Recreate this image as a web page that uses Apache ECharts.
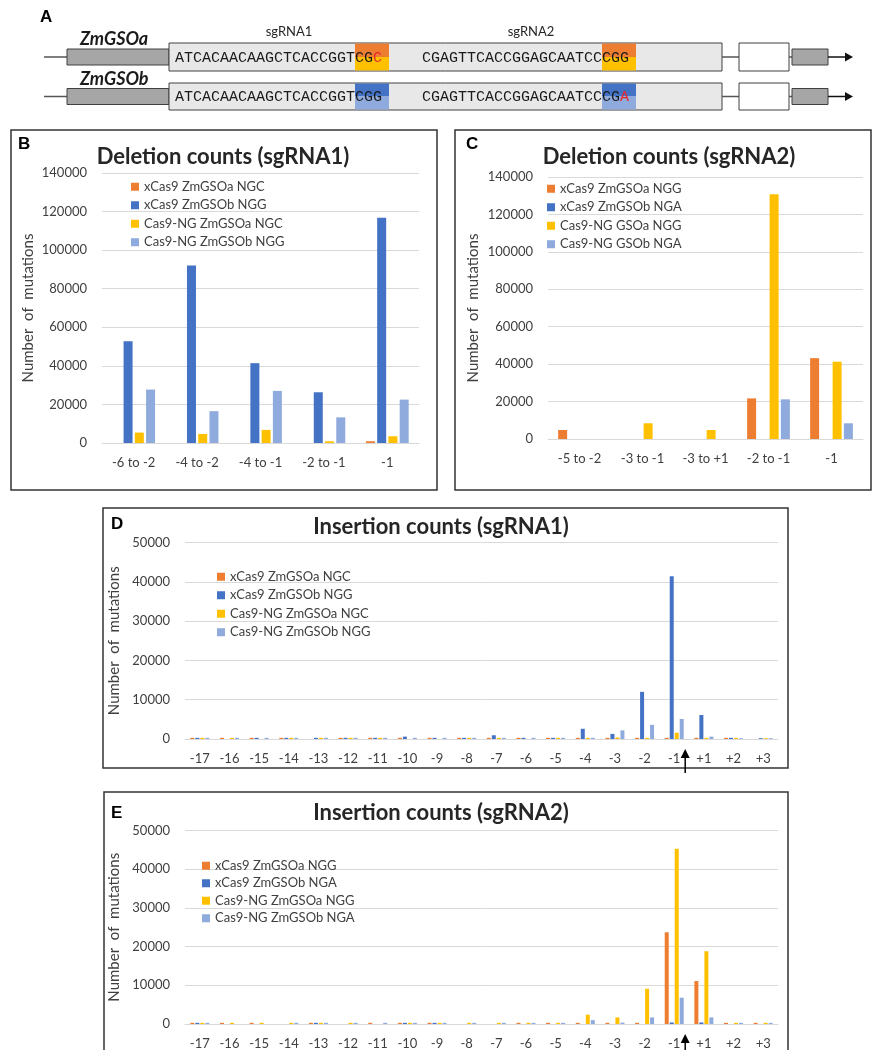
<!DOCTYPE html>
<html><head><meta charset="utf-8">
<script src="https://cdn.jsdelivr.net/npm/echarts@6/dist/echarts.min.js"></script>
<style>html,body{margin:0;padding:0;background:#fff}#c{width:872px;height:1050px}</style>
</head><body><div id="c"></div>
<script>
// ---------- DATA ----------
const seriesNamesB = ['xCas9 ZmGSOa NGC','xCas9 ZmGSOb NGG','Cas9-NG ZmGSOa NGC','Cas9-NG ZmGSOb NGG'];
const seriesNamesC = ['xCas9 ZmGSOa NGG','xCas9 ZmGSOb NGA','Cas9-NG GSOa NGG','Cas9-NG GSOb NGA'];
const seriesNamesD = ['xCas9 ZmGSOa NGC','xCas9 ZmGSOb NGG','Cas9-NG ZmGSOa NGC','Cas9-NG ZmGSOb NGG'];
const seriesNamesE = ['xCas9 ZmGSOa NGG','xCas9 ZmGSOb NGA','Cas9-NG ZmGSOa NGG','Cas9-NG ZmGSOb NGA'];

const catB = ['-6 to -2','-4 to -2','-4 to -1','-2 to -1','-1'];
const B_xa = [0, 0, 0, 0, 900];
const B_xb = [52700, 92000, 41400, 26300, 116800];
const B_na = [5400, 4700, 6800, 900, 3500];
const B_nb = [27700, 16500, 27000, 13300, 22500];

const catC = ['-5 to -2','-3 to -1','-3 to +1','-2 to -1','-1'];
const C_xa = [4800, 0, 0, 21700, 43200];
const C_xb = [0, 0, 0, 0, 0];
const C_na = [0, 8400, 4800, 130800, 41300];
const C_nb = [0, 0, 0, 21200, 8400];

const catIns = ['-17','-16','-15','-14','-13','-12','-11','-10','-9','-8','-7','-6','-5','-4','-3','-2','-1','+1','+2','+3'];
const D_xa = [300,300,300,300,0,300,300,300,300,300,300,300,300,300,300,300,300,300,300,0];
const D_xb = [300,0,300,300,300,300,300,600,300,300,950,300,300,2600,1300,12000,41400,6100,300,200];
const D_na = [300,300,0,300,300,300,300,0,0,300,300,0,300,300,400,300,1600,300,300,200];
const D_nb = [300,300,300,300,300,300,300,300,300,300,300,300,300,300,2200,3600,5100,600,200,200];

const E_xa = [300,300,300,0,300,0,300,300,300,0,0,300,300,300,300,300,23700,11100,300,300];
const E_xb = [300,0,0,0,300,0,0,300,300,0,0,0,0,0,0,0,400,400,0,0];
const E_na = [300,300,300,300,300,300,0,300,300,300,300,300,300,2400,1700,9100,45300,18800,300,300];
const E_nb = [300,0,0,300,300,300,300,300,300,300,300,300,300,1000,350,1700,6800,1700,300,300];

const delMax = 140000, delStep = 20000;
const insMax = 50000, insStep = 10000;

const seqA1 = 'ATCACAACAAGCTCACCGGTCGC', seqA2 = 'CGAGTTCACCGGAGCAATCCCGG';
const seqB1 = 'ATCACAACAAGCTCACCGGTCGG', seqB2 = 'CGAGTTCACCGGAGCAATCCCGA';

// ---------- STYLE ----------
const COLORS = ['#ED7D31','#4472C4','#FFC000','#8FAADC'];
const FONT = 'Lato';
const TXT = '#404040';

const chart = echarts.init(document.getElementById('c'), null, {renderer:'canvas'});

const grids = [
  {left:102, top:173, width:317, height:270},
  {left:548, top:177, width:315, height:262},
  {left:185, top:542.5, width:593, height:196.5},
  {left:185, top:830.5, width:593, height:196.5}
];
const cats = [catB, catC, catIns, catIns];
const maxes = [delMax, delMax, insMax, insMax];
const steps = [delStep, delStep, insStep, insStep];
const nameGaps = [66, 67, 52, 52];

const xAxes = cats.map((c,i)=>({
  type:'category', gridIndex:i, data:c,
  axisTick:{show:false},
  axisLine:{lineStyle:{color:'#d9d9d9', width:1}},
  axisLabel:{color:TXT, fontSize:13, fontFamily:FONT, margin:13, interval:0}
}));
const yAxes = maxes.map((m,i)=>({
  type:'value', gridIndex:i, min:0, max:m, interval:steps[i],
  axisLine:{show:false}, axisTick:{show:false},
  splitLine:{lineStyle:{color:'#d9d9d9', width:1}},
  axisLabel:{color:TXT, fontSize:13, fontFamily:FONT, margin:15, formatter:v=>String(v)},
  name:'Number  of  mutations', nameLocation:'middle', nameGap:nameGaps[i],
  nameTextStyle:{color:TXT, fontSize:15, fontFamily:FONT}
}));

const panelData = [
  [B_xa,B_xb,B_na,B_nb],
  [C_xa,C_xb,C_na,C_nb],
  [D_xa,D_xb,D_na,D_nb],
  [E_xa,E_xb,E_na,E_nb]
];
const panelNames = [seriesNamesB, seriesNamesC, seriesNamesD, seriesNamesE];
const barW = [9, 9, 4, 4];
const series = [];
panelData.forEach((arrs,i)=>{
  arrs.forEach((d,k)=>{
    series.push({
      type:'bar', name:panelNames[i][k], xAxisIndex:i, yAxisIndex:i, data:d,
      itemStyle:{color:COLORS[k]}, barWidth:barW[i], barGap:'25%',
      emphasis:{disabled:true}
    });
  });
});

const legendPos = [
  {left:131, top:180}, {left:547, top:182}, {left:217, top:570}, {left:202, top:859}
];
const legendGap = [5, 5, 5, 4];
const legends = legendPos.map((p,i)=>({
  left:p.left, top:p.top, orient:'vertical', padding:0,
  itemWidth:8, itemHeight:8, itemGap:legendGap[i], icon:'rect', selectedMode:false,
  textStyle:{color:TXT, fontSize:13, fontFamily:FONT, lineHeight:13.5},
  data: panelNames[i]
}));

// ---------- GRAPHIC (panel frames, titles, diagram A) ----------
const G = [];
function txt(x,y,text,font,fill,align,valign){
  G.push({type:'text', silent:true, x:0, y:0, style:{x, y, text, font, fill:fill||'#000',
    textAlign:align||'left', textVerticalAlign:valign||'middle', align:align||'left', verticalAlign:valign||'middle'}});
}
function rect(x,y,w,h,fill,stroke,lw){
  G.push({type:'rect', silent:true, shape:{x,y,width:w,height:h}, style:{fill:fill||'none', stroke:stroke||null, lineWidth:lw||1}});
}
function line(x1,y1,x2,y2,stroke,lw){
  G.push({type:'line', silent:true, shape:{x1,y1,x2,y2}, style:{stroke:stroke||'#404040', lineWidth:lw||1}});
}

// panel frames
rect(11,130,426,360,'none','#333',1.5);
rect(455,130,416,360,'none','#333',1.5);
rect(103,508,685,260,'none','#333',1.5);
rect(104,792,684,270,'none','#333',1.5);

// panel letters
const LF = 'bold 17px "Liberation Sans"';
txt(18,144,'B',LF,'#000');
txt(466,144,'C',LF,'#000');
txt(111,524,'D',LF,'#000');
txt(111,813,'E',LF,'#000');
txt(40,17,'A',LF,'#000');

// titles
const TF = 'bold 22px Lato';
txt(223,157,'Deletion counts (sgRNA1)',TF,'#262626','center');
txt(669,157,'Deletion counts (sgRNA2)',TF,'#262626','center');
txt(441,527,'Insertion counts (sgRNA1)',TF,'#262626','center');
txt(441,813,'Insertion counts (sgRNA2)',TF,'#262626','center');

// diagram A
txt(289,32,'sgRNA1','13px Lato','#262626','center');
txt(531,32,'sgRNA2','13px Lato','#262626','center');
const rows = [
  {y0:43, y1:71, label:'ZmGSOa', ly:39, s1:seqA1, r1:22, s2:seqA2, r2:-1, top:'#ED7D31', bot:'#FFC000'},
  {y0:83, y1:110, label:'ZmGSOb', ly:79, s1:seqB1, r1:-1, s2:seqB2, r2:22, top:'#4472C4', bot:'#8FAADC'}
];
const CW = 9, MF = '15px "Liberation Mono"';
function seqText(x, y, s, red){
  if(red < 0){ txt(x,y,s,MF,'#1a1a1a'); return; }
  txt(x,y,s.slice(0,red),MF,'#1a1a1a');
  txt(x+red*CW,y,s.slice(red,red+1),MF,'#E8262B');
  if(red+1<s.length) txt(x+(red+1)*CW,y,s.slice(red+1),MF,'#1a1a1a');
}
rows.forEach(r=>{
  const mid = (r.y0+r.y1)/2;
  txt(80,r.ly,r.label,'italic bold 18px Lato','#1a1a1a');
  line(44,mid,67,mid,'#555',1.5);
  rect(67,mid-8,102,16,'#a6a6a6','#404040',1);
  rect(169,r.y0,553,r.y1-r.y0,'#e8e8e8','#404040',1);
  rect(355,r.y0+0.5,34,mid-r.y0-0.5,r.top);
  rect(355,mid,34,r.y1-mid-0.5,r.bot);
  rect(602,r.y0+0.5,34,mid-r.y0-0.5,r.top);
  rect(602,mid,34,r.y1-mid-0.5,r.bot);
  seqText(175,mid+1,r.s1,r.r1);
  seqText(422,mid+1,r.s2,r.r2);
  line(722,mid,739,mid,'#555',1.5);
  rect(739,r.y0,50,r.y1-r.y0,'#fff','#404040',1);
  line(789,mid,792,mid,'#555',1.5);
  rect(792,mid-8,36,16,'#a6a6a6','#404040',1);
  line(828,mid,846,mid,'#111',1.5);
  G.push({type:'polygon', silent:true, shape:{points:[[845,mid-4.5],[853,mid],[845,mid+4.5]]}, style:{fill:'#111'}});
});

const option = {
  animation:false,
  textStyle:{fontFamily:FONT},
  grid:grids.map(g=>Object.assign({containLabel:false}, g)),
  xAxis:xAxes, yAxis:yAxes, legend:legends, series,
  graphic:{elements:G}
};
chart.setOption(option);

// arrows marking the cut site between -1 and +1 (positions from the category axis)
const arrows = [];
[2,3].forEach(ai=>{
  const xm1 = chart.convertToPixel({xAxisIndex:ai}, catIns.indexOf('-1'));
  const xp1 = chart.convertToPixel({xAxisIndex:ai}, catIns.indexOf('+1'));
  const y0 = chart.convertToPixel({yAxisIndex:ai}, 0);
  const ax = xm1 + 0.37*(xp1-xm1);
  arrows.push({type:'line', silent:true, shape:{x1:ax,y1:y0+16,x2:ax,y2:y0+34}, style:{stroke:'#000', lineWidth:1.5}});
  arrows.push({type:'polygon', silent:true, shape:{points:[[ax-4.5,y0+19],[ax,y0+10],[ax+4.5,y0+19]]}, style:{fill:'#000'}});
});
chart.setOption({graphic:{elements:G.concat(arrows)}});
</script>
</body></html>
